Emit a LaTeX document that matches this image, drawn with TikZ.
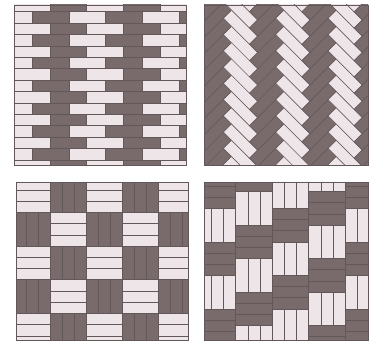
\documentclass[tikz,border=0pt]{standalone}
\definecolor{lt}{RGB}{238,229,232}
\definecolor{dk}{RGB}{121,106,108}
\definecolor{jn}{RGB}{98,88,90}
\begin{document}
\begin{tikzpicture}[x=1pt,y=1pt,
  brick/.style={draw=jn, line width=0.5pt},
  frame/.style={draw=jn, line width=0.8pt}]
\useasboundingbox (0,0) rectangle (369,341);
% ---------- panel 1: stretcher bond ----------
\begin{scope}
\clip (14,176) rectangle (186,336);
\foreach \r in {0,...,14} {
  \pgfmathsetmacro{\yb}{341-0.3-11.4*\r-11.4}
  \pgfmathtruncatemacro{\od}{mod(\r,2)}
  \foreach \i in {0,...,5} {
    \pgfmathsetmacro{\xa}{(\od==0 ? 13.3 : -4.4) + 36.7*\i}
    \pgfmathtruncatemacro{\li}{mod(\i,2)}
    \ifnum\li=0 \def\col{lt}\else\def\col{dk}\fi
    \filldraw[brick, fill=\col] (\xa,\yb) rectangle ++(36.7,11.4);
  }
}
\end{scope}
\draw[frame] (14,176) rectangle (186,336);
% ---------- panel 2: herringbone 45 ----------
\begin{scope}
\clip (204,176) rectangle (368,336);
\begin{scope}[shift={(205.3,256)}, rotate=45]
\foreach \t in {-18,...,18} {
  \foreach \s in {-4,...,7} {
    \pgfmathsetmacro{\a}{\t*11.5+\s*37}
    \pgfmathsetmacro{\b}{\t*11.5-\s*37}
    \filldraw[brick, fill=dk] (\a,\b) rectangle ++(37,11.5);
    \filldraw[brick, fill=lt] (\a+37,\b+11.5-37) rectangle ++(11.5,37);
  }
}
\end{scope}
\end{scope}
\draw[frame] (204,176) rectangle (368,336);
% ---------- panel 3: basketweave ----------
\begin{scope}
\clip (16,1) rectangle (188,159);
\foreach \i in {0,...,5} {
  \foreach \j in {0,...,5} {
    \pgfmathsetmacro{\xa}{14+36*\i}
    \pgfmathsetmacro{\yt}{162.4-33.7*\j}
    \pgfmathtruncatemacro{\li}{mod(\i+\j,2)}
    \ifnum\li=0
      \filldraw[brick, fill=lt] (\xa,\yt) rectangle ++(36,-33.7);
      \draw[brick] (\xa,\yt-11.23) -- ++(36,0);
      \draw[brick] (\xa,\yt-22.47) -- ++(36,0);
    \else
      \filldraw[brick, fill=dk] (\xa,\yt) rectangle ++(36,-33.7);
      \draw[brick] (\xa+12,\yt) -- ++(0,-33.7);
      \draw[brick] (\xa+24,\yt) -- ++(0,-33.7);
    \fi
  }
}
\end{scope}
\draw[frame] (16,1) rectangle (188,159);
% ---------- panel 4: offset basketweave ----------
\begin{scope}
\clip (204,1) rectangle (368,159);
\foreach \c in {0,...,4} {
  \foreach \k in {-1,...,6} {
    \pgfmathsetmacro{\xa}{199.2+36.5*\c}
    \pgfmathtruncatemacro{\co}{mod(\c,2)}
    \pgfmathsetmacro{\yt}{341-(174.8+33.5*\k-(\co==1 ? 16.75 : 0))}
    \pgfmathtruncatemacro{\dd}{mod(\k+2+floor(\c/2),2)}
    \ifnum\dd=0
      \filldraw[brick, fill=dk] (\xa,\yt) rectangle ++(36.5,-33.5);
      \draw[brick] (\xa,\yt-11.17) -- ++(36.5,0);
      \draw[brick] (\xa,\yt-22.33) -- ++(36.5,0);
    \else
      \filldraw[brick, fill=lt] (\xa,\yt) rectangle ++(36.5,-33.5);
      \draw[brick] (\xa+12.17,\yt) -- ++(0,-33.5);
      \draw[brick] (\xa+24.33,\yt) -- ++(0,-33.5);
    \fi
  }
}
\end{scope}
\draw[frame] (204,1) rectangle (368,159);
\end{tikzpicture}
\end{document}
